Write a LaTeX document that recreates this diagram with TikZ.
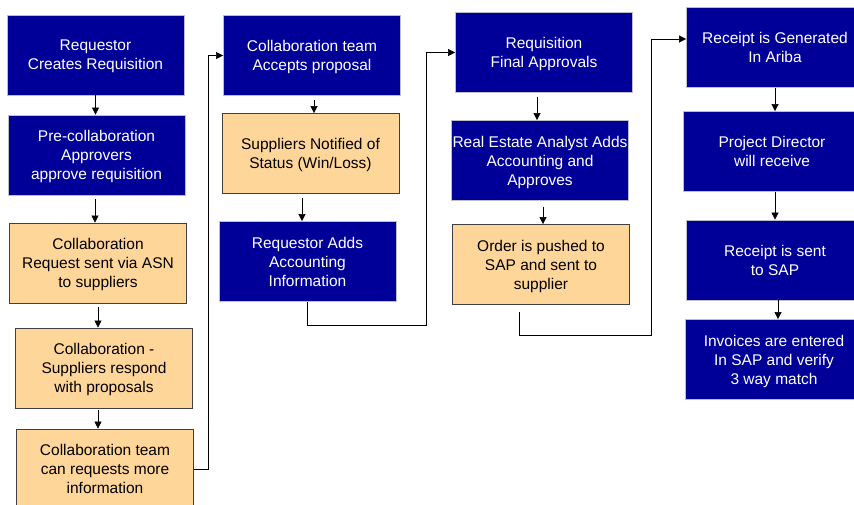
\documentclass[tikz,border=0pt]{standalone}
\usepackage{fontspec}
\setmainfont{Liberation Sans}
\usepackage{tikz}
\usetikzlibrary{arrows.meta}

\definecolor{navy}{RGB}{0,0,153}
\definecolor{peach}{RGB}{255,214,153}
\definecolor{rim}{RGB}{190,190,200}
\definecolor{darkrim}{RGB}{64,64,64}

\begin{document}
\begin{tikzpicture}[x=1pt, y=-1pt, >={Triangle[length=7pt, width=7pt]}, semithick,
		box/.style={rectangle, minimum width=177pt, minimum height=80pt, inner sep=0pt,
			line width=0.8pt, align=center, font=\fontsize{15.5}{19}\selectfont,
			text depth=-5pt},
		navybox/.style={box, fill=navy, draw=rim, text=white},
		peachbox/.style={box, fill=peach, draw=darkrim, text=black}]

	\useasboundingbox (0,0) rectangle (854,504);
	\clip (0,0) rectangle (854,504);

	% first column
	\node [navybox]		(1) at (95.5,55)	{Requestor\\Creates Requisition};
	\node [navybox]		(2) at (96.5,155)	{Pre-collaboration\\Approvers\\approve requisition};
	\node [peachbox]	(3) at (98,263)		{Collaboration\\Request sent via ASN\\to suppliers};
	\node [peachbox]	(4) at (104,368)	{Collaboration -\\Suppliers respond\\with proposals};
	\node [peachbox]	(5) at (105,469)	{Collaboration team\\can requests more\\information};

	% second column
	\node [navybox]		(6) at (312,55.5)	{Collaboration team\\Accepts proposal};
	\node [peachbox]	(7) at (310.5,153.5)	{Suppliers Notified of\\Status (Win/Loss)};
	\node [navybox]		(8) at (307.5,261.5)	{Requestor Adds\\Accounting\\Information};

	% third column
	\node [navybox]		(9) at (544,52.5)	{Requisition\\Final Approvals};
	\node [navybox]		(10) at (540,160.5)	{Real Estate Analyst Adds\\Accounting and\\Approves};
	\node [peachbox]	(11) at (541,264.5)	{Order is pushed to\\SAP and sent to\\supplier};

	% fourth column
	\node [navybox]		(12) at (775,47.5)	{Receipt is Generated\\In Ariba};
	\node [navybox]		(13) at (772,151.5)	{Project Director\\will receive};
	\node [navybox]		(14) at (775,260)	{Receipt is sent\\to SAP};
	\node [navybox]		(15) at (774,359.5)	{Invoices are entered\\In SAP and verify\\3 way match};

	% steps inside a column
	\draw [->] (1.south) -- (1.south |- 2.north);
	\draw [->] ([xshift=-1.5pt, yshift=-4pt]2.south) -- ([xshift=-3pt]3.north);
	\draw [->] ([yshift=-4pt]3.south) -- (3.south |- 4.north);
	\draw [->] ([xshift=-6pt, yshift=-2pt]4.south) -- ([xshift=-7pt]5.north);

	\draw [->] ([xshift=2pt, yshift=-4pt]6.south) -- ([xshift=3.5pt]7.north);
	\draw [->] ([xshift=-8.5pt, yshift=-4pt]7.south) -- ([xshift=-5.5pt]8.north);

	\draw [->] ([xshift=-7pt, yshift=-4pt]9.south) -- ([xshift=-3pt]10.north);
	\draw [->] ([xshift=3pt, yshift=-6pt]10.south) -- ([xshift=2pt]11.north);

	\draw [->] (12.south) -- ([xshift=3pt]13.north);
	\draw [->] ([xshift=3pt]13.south) -- (14.north);
	\draw [->] ([xshift=3pt]14.south) -- ([xshift=4pt]15.north);

	% hand over to the next column
	\draw [->] (5.east) -- ++(14,0) |- (6.west);
	\draw [->] (8.south) -- ++(0,23) -- ++(119,0) |- (9.west);
	\draw [->] ([xshift=-22pt, yshift=-7pt]11.south) -- ++(0,23) -- ++(132,0) |- ([yshift=8.5pt]12.west);

\end{tikzpicture}
\end{document}
